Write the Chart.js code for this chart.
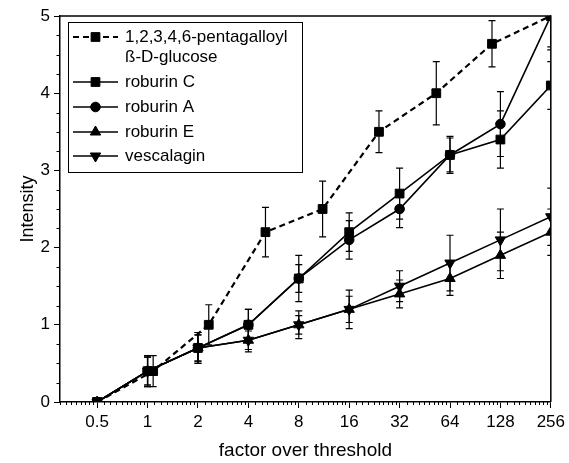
<!DOCTYPE html>
<html><head><meta charset="utf-8">
<style>html,body{margin:0;padding:0;background:#fff;}canvas{display:block;}</style>
<script src="https://cdn.jsdelivr.net/npm/chart.js@4.4.0/dist/chart.umd.min.js"></script>
</head><body>
<canvas id="c" width="569" height="463"></canvas>
<script>
// ---- data ----
const xTickValues = [0.5, 1, 2, 4, 8, 16, 32, 64, 128, 256];
const yTickValues = [0, 1, 2, 3, 4, 5];
const seriesNames = ['1,2,3,4,6-pentagalloyl\nß-D-glucose', 'roburin C', 'roburin A', 'roburin E', 'vescalagin'];

const xPGG = [0.5, 1.08, 2.32, 5.06, 11.1, 24.1, 53, 114, 256];
const pgg = [0, 0.4, 1.0, 2.2, 2.5, 3.5, 4.0, 4.64, 5.0];
const pggErr = [0, 0.2, 0.26, 0.32, 0.36, 0.27, 0.41, 0.3, 0.4];

const xRoburin = [0.5, 1, 2, 4, 8, 16, 32, 64, 128, 256];
const roburinC = [0, 0.4, 0.7, 1.0, 1.6, 2.2, 2.7, 3.2, 3.4, 4.1];
const roburinCErr = [0, 0.2, 0.17, 0.2, 0.3, 0.25, 0.33, 0.22, 0.37, 0.31];
const roburinA = [0, 0.4, 0.7, 1.0, 1.6, 2.1, 2.5, 3.2, 3.6, 5.0];
const roburinAErr = [0, 0.18, 0.2, 0.2, 0.18, 0.25, 0.24, 0.24, 0.42, 0.44];
const roburinE = [0, 0.4, 0.7, 0.8, 1.0, 1.2, 1.4, 1.6, 1.9, 2.2];
const roburinEErr = [0, 0.18, 0.17, 0.15, 0.12, 0.17, 0.18, 0.22, 0.3, 0.3];
const vescalagin = [0, 0.4, 0.7, 0.8, 1.0, 1.2, 1.5, 1.8, 2.1, 2.4];
const vescalaginErr = [0, 0.2, 0.2, 0.12, 0.18, 0.25, 0.2, 0.36, 0.4, 0.37];

const FONT = '"Liberation Sans", Arial, Helvetica, sans-serif';

function pts(xs, ys, errs) { return xs.map((x, i) => ({ x: x, y: ys[i], err: errs[i] })); }

const styles = [
  { style: 'rect', r: 6.2, rot: 0, dash: [6, 4], w: 2.2 },
  { style: 'rect', r: 6.2, rot: 0, dash: [], w: 1.6 },
  { style: 'circle', r: 4.8, rot: 0, dash: [], w: 1.6 },
  { style: 'triangle', r: 6, rot: 0, dash: [], w: 1.6 },
  { style: 'triangle', r: 6, rot: 180, dash: [], w: 1.6 }
];
const dataSets = [pts(xPGG, pgg, pggErr), pts(xRoburin, roburinC, roburinCErr), pts(xRoburin, roburinA, roburinAErr),
                  pts(xRoburin, roburinE, roburinEErr), pts(xRoburin, vescalagin, vescalaginErr)];

const datasets = dataSets.map((d, i) => ({
  label: seriesNames[i], data: d,
  borderColor: '#000', backgroundColor: '#000',
  borderWidth: styles[i].w, borderDash: styles[i].dash,
  pointStyle: styles[i].style, pointRadius: styles[i].r, pointRotation: styles[i].rot,
  pointBackgroundColor: '#000', pointBorderColor: '#000', pointBorderWidth: 1,
  tension: 0, fill: false, showLine: true
}));

// error bars, minor ticks, frame, legend
const extras = {
  id: 'extras',
  beforeDatasetsDraw(chart) {
    const ctx = chart.ctx, xs = chart.scales.x, ys = chart.scales.y, a = chart.chartArea;
    ctx.save();
    ctx.beginPath(); ctx.rect(a.left, a.top - 1, a.right - a.left, a.bottom - a.top + 2); ctx.clip();
    ctx.strokeStyle = '#000'; ctx.lineWidth = 1.2;
    chart.data.datasets.forEach(ds => {
      ds.data.forEach(p => {
        if (!p.err) return;
        const px = xs.getPixelForValue(p.x);
        const y1 = ys.getPixelForValue(p.y + p.err), y2 = ys.getPixelForValue(p.y - p.err);
        ctx.beginPath();
        ctx.moveTo(px, y1); ctx.lineTo(px, y2);
        ctx.moveTo(px - 3.5, y1); ctx.lineTo(px + 3.5, y1);
        ctx.moveTo(px - 3.5, y2); ctx.lineTo(px + 3.5, y2);
        ctx.stroke();
      });
    });
    ctx.restore();
  },
  afterDraw(chart) {
    const ctx = chart.ctx, xs = chart.scales.x, ys = chart.scales.y, a = chart.chartArea;
    ctx.save();
    ctx.strokeStyle = '#000'; ctx.lineWidth = 1;
    // minor x ticks
    ctx.beginPath();
    for (let base = 0.25; base < 256; base *= 2) {
      for (let k = 1; k <= 9; k++) {
        const v = base * (1 + k / 10);
        if (v < xs.min || v > xs.max) continue;
        const px = Math.round(xs.getPixelForValue(v)) + 0.5;
        ctx.moveTo(px, a.bottom); ctx.lineTo(px, a.bottom + 3);
      }
    }
    // minor y ticks
    for (let v = 0.25; v < 5; v += 0.25) {
      if (Math.abs(v - Math.round(v)) < 1e-6) continue;
      const py = Math.round(ys.getPixelForValue(v)) + 0.5;
      ctx.moveTo(a.left, py); ctx.lineTo(a.left - 3.5, py);
    }
    ctx.stroke();
    // frame top/right
    ctx.lineWidth = 1.5;
    ctx.beginPath();
    ctx.moveTo(a.left, a.top); ctx.lineTo(a.right, a.top); ctx.lineTo(a.right, a.bottom);
    ctx.stroke();

    // legend
    const L = { left: 68.5, top: 22.5, right: 302.5, bottom: 172.5 };
    ctx.fillStyle = '#fff';
    ctx.fillRect(L.left, L.top, L.right - L.left, L.bottom - L.top);
    ctx.lineWidth = 1; ctx.strokeStyle = '#000';
    ctx.strokeRect(L.left, L.top, L.right - L.left, L.bottom - L.top);
    const rowsY = [37, 82, 107, 132, 156];
    ctx.font = '17px ' + FONT; ctx.fillStyle = '#000'; ctx.textBaseline = 'middle'; ctx.textAlign = 'left';
    chart.data.datasets.forEach((ds, i) => {
      const y = rowsY[i];
      ctx.save();
      ctx.lineWidth = ds.borderWidth; ctx.setLineDash(ds.borderDash);
      ctx.beginPath(); ctx.moveTo(73, y); ctx.lineTo(118, y); ctx.stroke();
      ctx.restore();
      Chart.helpers.drawPoint(ctx, { pointStyle: ds.pointStyle, radius: ds.pointRadius, rotation: ds.pointRotation, borderWidth: 1 }, 95.5, y);
      ctx.fillStyle = '#000';
      ds.label.split('\n').forEach((t, j) => ctx.fillText(t, 125, y + j * 20));
    });
    ctx.restore();
  }
};

new Chart(document.getElementById('c'), {
  type: 'scatter',
  data: { datasets: datasets },
  plugins: [extras],
  options: {
    responsive: false, animation: false,
    layout: { padding: { top: 16, right: 17, left: 0, bottom: 0 } },
    plugins: { legend: { display: false }, tooltip: { enabled: false } },
    scales: {
      x: {
        type: 'logarithmic', min: 0.3, max: 256,
        afterBuildTicks: s => { s.ticks = xTickValues.map(v => ({ value: v })); },
        afterFit: s => { s.height = 61; },
        ticks: { callback: v => String(v), font: { size: 17, family: FONT }, color: '#000', padding: 4, autoSkip: false, maxRotation: 0 },
        grid: { drawOnChartArea: false, color: '#000', tickLength: 6, lineWidth: 1 },
        border: { color: '#000', width: 1.5 },
        title: { display: true, text: 'factor over threshold', font: { size: 19, family: FONT }, color: '#000', padding: { top: 2, bottom: 1 } }
      },
      y: {
        type: 'linear', min: 0, max: 5,
        afterBuildTicks: s => { s.ticks = yTickValues.map(v => ({ value: v })); },
        afterFit: s => { s.width = 60; },
        ticks: { font: { size: 17, family: FONT }, color: '#000', padding: 4 },
        grid: { drawOnChartArea: false, color: '#000', tickLength: 6, lineWidth: 1 },
        border: { color: '#000', width: 1.5 },
        title: { display: true, text: 'Intensity', font: { size: 18, family: FONT }, color: '#000', padding: { top: 17, bottom: 0 } }
      }
    }
  }
});
</script>
</body></html>
